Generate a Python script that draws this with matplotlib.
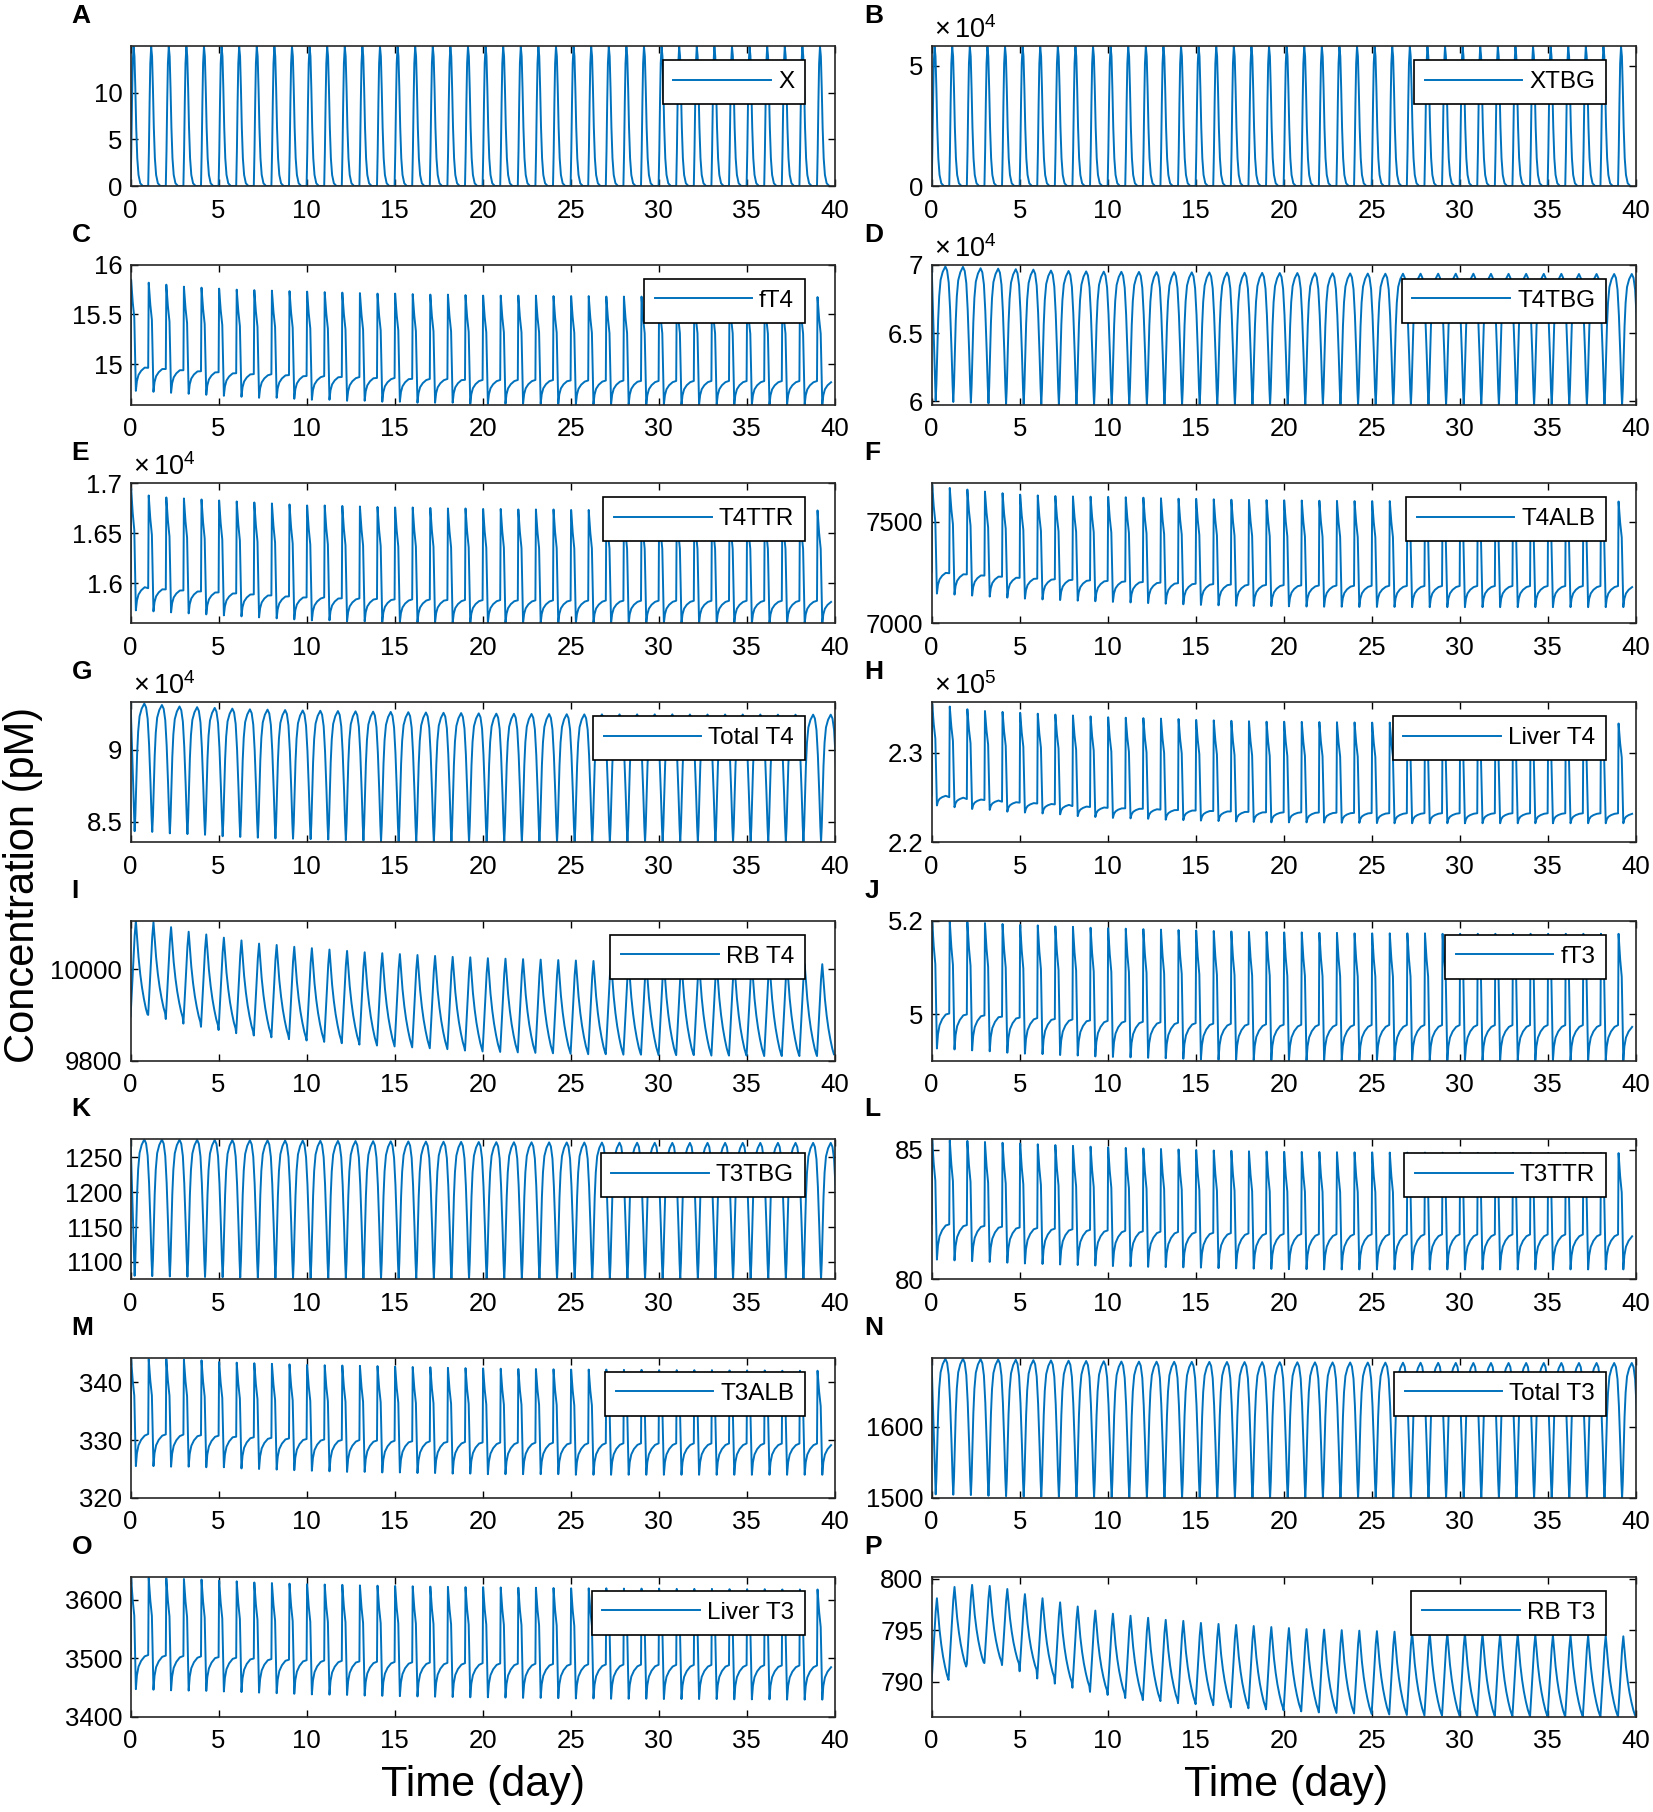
import matplotlib
matplotlib.use("Agg")
import matplotlib.pyplot as plt

plt.rcParams['font.family'] = ['Liberation Sans', 'DejaVu Sans']
plt.rcParams['mathtext.fontset'] = 'custom'
plt.rcParams['mathtext.rm'] = 'Liberation Sans'

BLUE = '#0072BD'
days = 40

letters = list("ABCDEFGHIJKLMNOP")
names = ["X", "XTBG", "fT4", "T4TBG", "T4TTR", "T4ALB", "Total T4", "Liver T4",
         "RB T4", "fT3", "T3TBG", "T3TTR", "T3ALB", "Total T3", "Liver T3", "RB T3"]
kinds = ["spike", "spike", "free", "bound", "free", "free", "bound", "free",
         "saw", "free", "bound", "free", "free", "bound", "free", "saw"]
exps = [0, 4, 0, 4, 4, 0, 4, 5, 0, 0, 0, 0, 0, 0, 0, 0]
ylims = [(0, 15), (0, 5.8), (14.59, 16), (5.975, 7.0), (1.56, 1.70), (7000, 7690),
         (8.36, 9.33), (2.2, 2.357), (9800, 10106), (4.90, 5.20), (1075, 1276),
         (80, 85.4), (320, 344.2), (1500, 1697), (3400, 3640), (786.6, 800.2)]
yticks = [[0, 5, 10], [0, 5], [15, 15.5, 16], [6, 6.5, 7], [1.6, 1.65, 1.7],
          [7000, 7500], [8.5, 9], [2.2, 2.3], [9800, 10000], [5, 5.2],
          [1100, 1150, 1200, 1250], [80, 85], [320, 330, 340], [1500, 1600],
          [3400, 3500, 3600], [790, 795, 800]]
xticks = [0, 5, 10, 15, 20, 25, 30, 35, 40]

# value at t = 0 for the panels whose first dose comes a bit later
starts = [None, None, None, 7.0, None, None, 9.33, None,
          None, None, 1276, None, None, 1690, None, None]
# pre-dose level as a share of the peak-trough swing
rests = [0, 0, 0.22, 0, 0.2, 0.2, 0, 0.1, 0, 0.28, 0, 0.3, 0.3, 0, 0.31, 0]

# one daily cycle per kind: phase in day, share of the swing, share of rest level
templates = {
    "spike": ([0.0, 0.04, 0.08, 0.12, 0.17, 0.22, 0.27, 0.32, 0.38, 0.45, 0.55, 0.70],
              [0.0, 0.25, 0.60, 0.88, 1.00, 0.93, 0.70, 0.42, 0.20, 0.08, 0.02, 0.0],
              [0] * 12, 0.0),
    "free": ([0.0, 0.03, 0.12, 0.21, 0.30, 0.36, 0.45, 0.60, 0.80],
             [0.0, 1.0, 0.80, 0.66, 0.0, 0.0, 0.0, 0.0, 0.0],
             [1.0, 0.0, 0.0, 0.0, 0.0, 0.40, 0.65, 0.82, 0.95], 0.0),
    "bound": ([0.0, 0.04, 0.09, 0.14, 0.20, 0.28, 0.40, 0.55, 0.65, 0.74, 0.82, 0.90, 0.96],
              [0.0, 0.12, 0.35, 0.60, 0.78, 0.90, 0.96, 1.00, 0.97, 0.88, 0.68, 0.38, 0.12],
              [0] * 13, 0.23),
    "saw": ([0.0, 0.08, 0.16, 0.23, 0.30, 0.37, 0.45, 0.55, 0.65, 0.76, 0.87, 0.96],
            [0.0, 0.28, 0.58, 0.84, 1.00, 0.82, 0.62, 0.44, 0.30, 0.18, 0.08, 0.02],
            [0] * 12, 0.0),
}

# peaks and troughs of the 40 daily cycles
peaks_X = [14.95] * 40
lows_X = [0.0] * 40
peaks_XTBG = [5.78] * 40
lows_XTBG = [0.0] * 40
peaks_fT4 = [15.85, 15.82, 15.80, 15.78, 15.77, 15.76, 15.75, 15.745, 15.74, 15.735,
             15.73, 15.725, 15.72, 15.715, 15.71, 15.71, 15.705, 15.70, 15.70, 15.695,
             15.69, 15.69, 15.69, 15.69, 15.685, 15.685, 15.685, 15.68, 15.68, 15.68,
             15.68, 15.68, 15.68, 15.68, 15.68, 15.675, 15.675, 15.675, 15.675, 15.675]
lows_fT4 = [14.73, 14.72, 14.71, 14.70, 14.69, 14.68, 14.67, 14.66, 14.66, 14.65,
            14.64, 14.64, 14.63, 14.63, 14.62, 14.62, 14.61, 14.61, 14.61, 14.60,
            14.60, 14.60, 14.60, 14.60, 14.60, 14.595, 14.595, 14.595, 14.595, 14.59,
            14.59, 14.59, 14.59, 14.59, 14.59, 14.59, 14.59, 14.59, 14.59, 14.59]
peaks_T4TBG = [6.988, 6.985, 6.975, 6.972, 6.968, 6.965, 6.958, 6.955, 6.952, 6.95,
               6.949, 6.948, 6.947, 6.946, 6.945, 6.944, 6.943, 6.942, 6.941, 6.94,
               6.94, 6.939, 6.938, 6.937, 6.936, 6.935, 6.935, 6.935, 6.935, 6.935,
               6.935, 6.934, 6.934, 6.934, 6.934, 6.934, 6.933, 6.933, 6.933, 6.933]
lows_T4TBG = [6.005, 5.995, 5.99, 5.985, 5.98, 5.978, 5.977, 5.977, 5.976, 5.976,
              5.976, 5.976, 5.976, 5.975, 5.975, 5.975, 5.975, 5.975, 5.975, 5.975,
              5.975, 5.975, 5.975, 5.975, 5.975, 5.975, 5.975, 5.975, 5.975, 5.975,
              5.975, 5.975, 5.975, 5.975, 5.975, 5.975, 5.975, 5.975, 5.975, 5.975]
peaks_T4TTR = [1.695, 1.688, 1.686, 1.685, 1.684, 1.683, 1.682, 1.681, 1.680, 1.679,
               1.678, 1.678, 1.6775, 1.677, 1.6765, 1.676, 1.676, 1.6755, 1.675, 1.675,
               1.6745, 1.6745, 1.674, 1.674, 1.674, 1.6735, 1.6735, 1.6735, 1.673, 1.673,
               1.673, 1.673, 1.673, 1.673, 1.673, 1.673, 1.673, 1.673, 1.673, 1.673]
lows_T4TTR = [1.573, 1.572, 1.571, 1.570, 1.569, 1.568, 1.567, 1.566, 1.565, 1.564,
              1.563, 1.563, 1.562, 1.562, 1.5615, 1.561, 1.561, 1.561, 1.5605, 1.5605,
              1.5605, 1.5605, 1.5603, 1.5603, 1.5603, 1.5602, 1.5602, 1.5602, 1.5601, 1.5601,
              1.5601, 1.5601, 1.56, 1.56, 1.56, 1.56, 1.56, 1.56, 1.56, 1.56]
peaks_T4ALB = [7684, 7668, 7660, 7650, 7642, 7635, 7631, 7628, 7626, 7625,
               7624, 7622, 7620, 7617, 7615, 7614, 7612, 7610, 7609, 7608,
               7607, 7606, 7605, 7604, 7603, 7603, 7603, 7603, 7602, 7602,
               7602, 7602, 7602, 7602, 7601, 7601, 7601, 7601, 7601, 7601]
lows_T4ALB = [7147, 7142, 7137, 7132, 7127, 7122, 7118, 7115, 7112, 7109,
              7106, 7103, 7100, 7097, 7094, 7091, 7089, 7087, 7086, 7085,
              7084, 7083, 7082, 7082, 7081, 7081, 7081, 7080, 7080, 7080,
              7080, 7080, 7080, 7080, 7080, 7080, 7080, 7080, 7080, 7080]
peaks_TT4 = [9.32, 9.31, 9.30, 9.295, 9.29, 9.285, 9.28, 9.278, 9.275, 9.272,
             9.27, 9.268, 9.266, 9.264, 9.262, 9.26, 9.258, 9.256, 9.254, 9.252,
             9.25, 9.249, 9.248, 9.247, 9.246, 9.245, 9.245, 9.245, 9.245, 9.245,
             9.245, 9.244, 9.244, 9.244, 9.244, 9.244, 9.243, 9.243, 9.243, 9.243]
lows_TT4 = [8.435, 8.43, 8.42, 8.415, 8.41, 8.40, 8.395, 8.39, 8.385, 8.383,
            8.38, 8.377, 8.373, 8.37, 8.365, 8.362, 8.361, 8.361, 8.36, 8.36,
            8.36, 8.36, 8.36, 8.36, 8.36, 8.36, 8.36, 8.36, 8.36, 8.36,
            8.36, 8.36, 8.36, 8.36, 8.36, 8.36, 8.36, 8.36, 8.36, 8.36]
peaks_LT4 = [2.355, 2.352, 2.349, 2.347, 2.346, 2.345, 2.344, 2.343, 2.342, 2.341,
             2.340, 2.3395, 2.339, 2.3385, 2.338, 2.337, 2.3365, 2.336, 2.3355, 2.335,
             2.335, 2.3348, 2.3346, 2.3344, 2.3342, 2.334, 2.334, 2.334, 2.334, 2.334,
             2.3338, 2.3338, 2.3336, 2.3336, 2.3334, 2.3334, 2.3332, 2.3332, 2.333, 2.333]
lows_LT4 = [2.241, 2.239, 2.237, 2.236, 2.234, 2.233, 2.232, 2.231, 2.229, 2.228,
            2.227, 2.2265, 2.226, 2.225, 2.2245, 2.224, 2.2235, 2.223, 2.2225, 2.222,
            2.222, 2.222, 2.2218, 2.2216, 2.2214, 2.2212, 2.221, 2.221, 2.221, 2.221,
            2.221, 2.221, 2.221, 2.221, 2.221, 2.221, 2.221, 2.221, 2.221, 2.221]
peaks_RBT4 = [10106, 10103, 10092, 10082, 10076, 10069, 10063, 10056, 10053, 10049,
              10046, 10043, 10040, 10037, 10035, 10033, 10031, 10029, 10027, 10026,
              10024, 10023, 10022, 10021, 10020, 10019, 10018, 10017, 10016, 10015,
              10015, 10014, 10014, 10013, 10013, 10012, 10012, 10012, 10011, 10011]
lows_RBT4 = [9897, 9900, 9891, 9881, 9874, 9867, 9860, 9855, 9851, 9847,
             9844, 9841, 9838, 9835, 9833, 9831, 9829, 9827, 9825, 9822,
             9820, 9819, 9818, 9817, 9816, 9815, 9814, 9814, 9813, 9813,
             9812, 9812, 9812, 9811, 9811, 9811, 9810, 9810, 9810, 9810]
peaks_fT3 = [5.200, 5.199, 5.197, 5.195, 5.193, 5.191, 5.190, 5.188, 5.187, 5.185,
             5.184, 5.183, 5.182, 5.181, 5.180, 5.179, 5.178, 5.177, 5.176, 5.176,
             5.175, 5.175, 5.174, 5.174, 5.173, 5.173, 5.173, 5.173, 5.173, 5.172,
             5.172, 5.172, 5.172, 5.172, 5.172, 5.172, 5.172, 5.172, 5.172, 5.172]
lows_fT3 = [4.926, 4.924, 4.922, 4.920, 4.917, 4.915, 4.914, 4.912, 4.911, 4.909,
            4.908, 4.907, 4.906, 4.905, 4.904, 4.903, 4.902, 4.902, 4.901, 4.901,
            4.900, 4.900, 4.900, 4.900, 4.900, 4.900, 4.900, 4.900, 4.900, 4.900,
            4.900, 4.900, 4.900, 4.900, 4.900, 4.900, 4.900, 4.900, 4.900, 4.900]
peaks_T3TBG = [1276, 1275.8, 1275.6, 1275.4, 1275.2, 1275, 1274.8, 1274.6, 1274.4, 1274.2,
               1274, 1273.8, 1273.6, 1273.4, 1273.2, 1273, 1272.8, 1272.6, 1272.4, 1272.2,
               1272, 1271.9, 1271.8, 1271.7, 1271.6, 1271.5, 1271.4, 1271.3, 1271.2, 1271.1,
               1271, 1271, 1271, 1271, 1271, 1271, 1271, 1271, 1271, 1271]
lows_T3TBG = [1080, 1079.5, 1079, 1078.6, 1078.3, 1078, 1077.6, 1077.3, 1077, 1076.7,
              1076.5, 1076.4, 1076.3, 1076.2, 1076.1, 1076, 1075.9, 1075.8, 1075.7, 1075.6,
              1075.5, 1075.5, 1075.4, 1075.4, 1075.4, 1075.3, 1075.3, 1075.3, 1075.3, 1075.3,
              1075.3, 1075.3, 1075.3, 1075.3, 1075.3, 1075.3, 1075.3, 1075.3, 1075.3, 1075.3]
peaks_T3TTR = [85.38, 85.36, 85.34, 85.30, 85.27, 85.24, 85.21, 85.18, 85.15, 85.12,
               85.09, 85.07, 85.05, 85.03, 85.01, 84.99, 84.97, 84.96, 84.94, 84.93,
               84.92, 84.915, 84.91, 84.905, 84.90, 84.90, 84.89, 84.89, 84.89, 84.885,
               84.885, 84.88, 84.88, 84.88, 84.875, 84.875, 84.875, 84.87, 84.87, 84.87]
lows_T3TTR = [80.76, 80.73, 80.70, 80.67, 80.64, 80.61, 80.59, 80.57, 80.55, 80.53,
              80.51, 80.50, 80.48, 80.47, 80.46, 80.45, 80.43, 80.42, 80.41, 80.40,
              80.39, 80.39, 80.38, 80.38, 80.38, 80.38, 80.38, 80.38, 80.38, 80.38,
              80.38, 80.38, 80.38, 80.38, 80.38, 80.38, 80.38, 80.38, 80.38, 80.38]
peaks_T3ALB = [344.0, 344.0, 344.0, 343.9, 343.8, 343.5, 343.4, 343.3, 343.2, 343.1,
               343.0, 342.95, 342.9, 342.85, 342.8, 342.7, 342.65, 342.6, 342.5, 342.45,
               342.4, 342.35, 342.3, 342.3, 342.25, 342.2, 342.2, 342.2, 342.15, 342.15,
               342.1, 342.1, 342.1, 342.1, 342.05, 342.05, 342.05, 342.0, 342.0, 342.0]
lows_T3ALB = [325.5, 325.5, 325.4, 325.4, 325.3, 325.3, 325.1, 325.0, 324.9, 324.8,
              324.7, 324.6, 324.5, 324.5, 324.4, 324.4, 324.3, 324.3, 324.2, 324.2,
              324.1, 324.1, 324.1, 324.1, 324.1, 324.0, 324.0, 324.0, 324.0, 324.0,
              324.0, 324.0, 324.0, 324.0, 324.0, 324.0, 324.0, 324.0, 324.0, 324.0]
peaks_TT3 = [1696, 1696, 1695.5, 1695, 1694.5, 1694, 1693.6, 1693.2, 1692.8, 1692.4,
             1692, 1691.9, 1691.8, 1691.7, 1691.6, 1691.5, 1691.4, 1691.3, 1691.2, 1691.1,
             1691, 1690.9, 1690.8, 1690.7, 1690.6, 1690.5, 1690.4, 1690.3, 1690.2, 1690.1,
             1690, 1690, 1690, 1690, 1690, 1690, 1690, 1690, 1690, 1690]
lows_TT3 = [1505, 1504.5, 1504, 1503, 1502.5, 1502, 1501.8, 1501.6, 1501.4, 1501.2,
            1501, 1500.9, 1500.8, 1500.7, 1500.6, 1500.5, 1500.4, 1500.4, 1500.3, 1500.3,
            1500.3, 1500.2, 1500.2, 1500.2, 1500.2, 1500.1, 1500.1, 1500.1, 1500.1, 1500.1,
            1500.1, 1500.1, 1500.1, 1500.1, 1500.1, 1500.1, 1500.1, 1500.1, 1500.1, 1500.1]
peaks_LT3 = [3638, 3638, 3637, 3636, 3635, 3633, 3632, 3630, 3629, 3628,
             3627, 3626.5, 3626, 3625, 3624.5, 3624, 3623.5, 3623, 3622.5, 3622,
             3622, 3621.5, 3621, 3621, 3620.5, 3620, 3620, 3620, 3619.5, 3619.5,
             3619.5, 3619, 3619, 3619, 3618.5, 3618.5, 3618.5, 3618, 3618, 3618]
lows_LT3 = [3447, 3446, 3445, 3444.5, 3444, 3443, 3442, 3441, 3440, 3439,
            3438, 3437.5, 3437, 3436, 3435.5, 3435, 3434.5, 3434, 3433.5, 3433,
            3433, 3432.5, 3432, 3432, 3431.5, 3431, 3431, 3430.5, 3430.5, 3430.5,
            3430, 3430, 3430, 3430, 3429.5, 3429.5, 3429.5, 3429, 3429, 3429]
peaks_RBT3 = [798.1, 799.2, 799.4, 799.3, 799.0, 798.5, 798.1, 797.7, 797.3, 796.9,
              796.6, 796.4, 796.2, 796.0, 795.9, 795.7, 795.6, 795.5, 795.4, 795.3,
              795.2, 795.1, 795.05, 795.0, 794.95, 794.9, 794.85, 794.8, 794.75, 794.7,
              794.7, 794.65, 794.6, 794.6, 794.55, 794.5, 794.5, 794.45, 794.45, 794.4]
lows_RBT3 = [790.0, 791.3, 791.7, 791.8, 791.6, 791.0, 790.3, 789.8, 789.4, 789.0,
             788.7, 788.4, 788.2, 788.1, 787.9, 787.8, 787.7, 787.5, 787.4, 787.3,
             787.2, 787.1, 787.0, 786.95, 786.9, 786.85, 786.8, 786.75, 786.7, 786.7,
             786.65, 786.65, 786.65, 786.65, 786.6, 786.6, 786.6, 786.6, 786.6, 786.6]

peaks = [peaks_X, peaks_XTBG, peaks_fT4, peaks_T4TBG, peaks_T4TTR, peaks_T4ALB,
         peaks_TT4, peaks_LT4, peaks_RBT4, peaks_fT3, peaks_T3TBG, peaks_T3TTR,
         peaks_T3ALB, peaks_TT3, peaks_LT3, peaks_RBT3]
lows = [lows_X, lows_XTBG, lows_fT4, lows_T4TBG, lows_T4TTR, lows_T4ALB,
        lows_TT4, lows_LT4, lows_RBT4, lows_fT3, lows_T3TBG, lows_T3TTR,
        lows_T3ALB, lows_TT3, lows_LT3, lows_RBT3]


def build(kind, hi_list, lo_list, start, rest):
    ph, amp, rst, off = templates[kind]
    t, y = [], []
    if start is not None:
        t.append(0.0)
        y.append(start)
    for n in range(days):
        hi, lo = hi_list[n], lo_list[n]
        for p, a, r in zip(ph, amp, rst):
            t.append(n + off + p)
            y.append(lo + (hi - lo) * (a + rest * r))
    return t, y


fig = plt.figure(figsize=(16.53, 18.12), dpi=100)

col_x = [0.0790, 0.5636]
ax_w = 0.4259
ax_h = 0.0772
top_bottom = 0.8973
row_step = 0.12066

for i in range(16):
    row, col = divmod(i, 2)
    ax = fig.add_axes([col_x[col], top_bottom - row * row_step, ax_w, ax_h])
    t, y = build(kinds[i], peaks[i], lows[i], starts[i], rests[i])
    ax.plot(t, y, color=BLUE, lw=1.4, label=names[i])
    ax.set_xlim(0, days)
    ax.set_ylim(*ylims[i])
    ax.set_xticks(xticks)
    ax.set_yticks(yticks[i])
    ax.set_yticklabels([f"{v:g}" for v in yticks[i]])
    ax.tick_params(direction='in', length=5, width=1, top=True, right=True,
                   labelsize=18.5)
    ax.tick_params(axis='x', pad=9)
    ax.tick_params(axis='y', pad=6)
    for s in ax.spines.values():
        s.set_linewidth(1.2)
        s.set_color('#262626')
    leg = ax.legend(loc='upper right', bbox_to_anchor=(0.958, 0.9), borderaxespad=0,
                    fontsize=17.5, handlelength=4.0, handletextpad=0.3,
                    borderpad=0.45, fancybox=False, framealpha=1)
    leg.get_frame().set_edgecolor('black')
    leg.get_frame().set_linewidth(1.2)
    lx = -0.084 if col == 0 else -0.095
    ax.text(lx, 1.215, letters[i], transform=ax.transAxes, fontsize=19,
            fontweight='bold', ha='left', va='center')
    if exps[i]:
        ax.text(0.003, 1.015, r'$\times\,\mathregular{10^{%d}}$' % exps[i],
                transform=ax.transAxes, fontsize=19.5, ha='left', va='bottom')

fig.text(0.292, 0.0147, "Time (day)", fontsize=31, ha='center', va='center')
fig.text(0.778, 0.0147, "Time (day)", fontsize=31, ha='center', va='center')
fig.text(0.014, 0.5115, "Concentration (pM)", fontsize=30, rotation=90,
         ha='center', va='center')

fig.savefig("out.png", dpi=100)
